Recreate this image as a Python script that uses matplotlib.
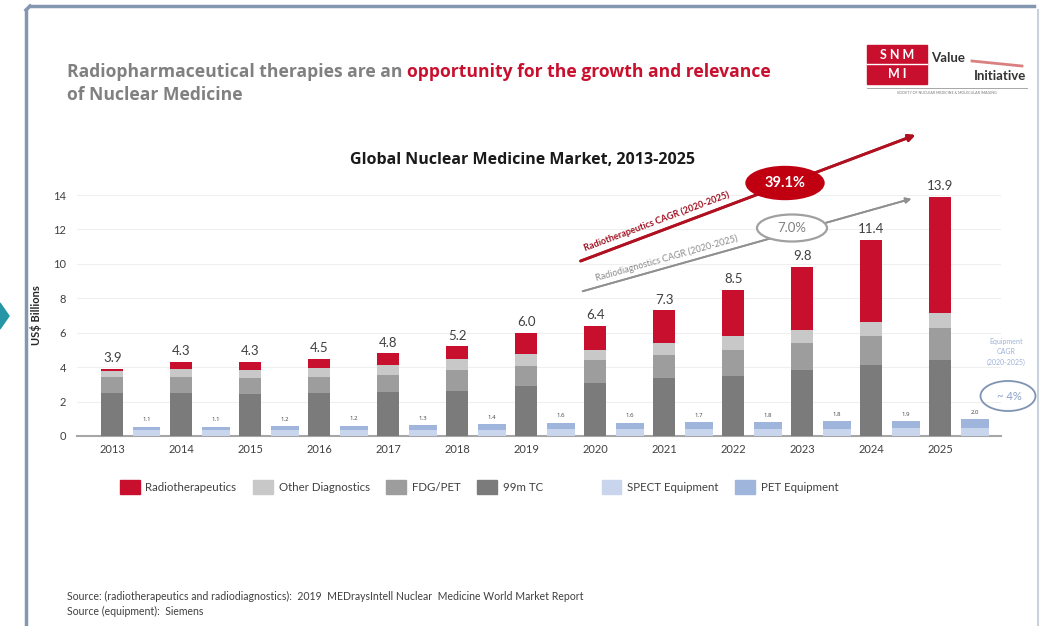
"""
Global Nuclear Medicine Market, 2013-2025 (stacked bars + equipment bars)
"""

import matplotlib.pyplot as plt
from matplotlib.lines import Line2D
from matplotlib.patches import Ellipse, Polygon, Rectangle

plt.rcParams["font.family"] = ["Lato", "DejaVu Sans"]

# ---- data (US$ billions) ------------------------------------------------
years = ["2013", "2014", "2015", "2016", "2017", "2018", "2019",
         "2020", "2021", "2022", "2023", "2024", "2025"]
tc99m = [2.5, 2.5, 2.45, 2.5, 2.55, 2.6, 2.9, 3.05, 3.35, 3.5, 3.85, 4.15, 4.4]
fdg_pet = [0.9, 0.95, 0.9, 0.95, 1.0, 1.25, 1.15, 1.35, 1.35, 1.5, 1.55, 1.65, 1.85]
other_dx = [0.35, 0.45, 0.5, 0.5, 0.6, 0.6, 0.7, 0.6, 0.7, 0.8, 0.75, 0.85, 0.9]
radio = [0.15, 0.4, 0.45, 0.55, 0.65, 0.75, 1.25, 1.4, 1.9, 2.7, 3.65, 4.75, 6.75]

# equipment bars (drawn on a compressed scale in the original) + their labels
spect_eq = [0.32, 0.32, 0.34, 0.35, 0.36, 0.37, 0.40, 0.40, 0.41, 0.42, 0.43, 0.44, 0.45]
pet_eq = [0.22, 0.23, 0.24, 0.25, 0.28, 0.31, 0.37, 0.37, 0.39, 0.40, 0.42, 0.43, 0.52]
eq_labels = ["1.1", "1.1", "1.2", "1.2", "1.3", "1.4", "1.6",
             "1.6", "1.7", "1.8", "1.8", "1.9", "2.0"]

RED = "#c8102e"
C_TC = "#7b7b7b"
C_FDG = "#9d9d9d"
C_OTHER = "#c8c8c8"
C_SPECT = "#c9d5ec"
C_PET = "#9fb5dc"

W, H = 1041, 626
WIDE = ["Open Sans", "DejaVu Sans"]


def px(x, y):
    """pixel (from top-left) -> figure fraction"""
    return x / W, 1 - y / H


def draw_frame(fig):
    border = "#8497b0"
    fig.add_artist(Line2D(*zip(px(26, H + 5), px(26, 10)), color=border, lw=2.5))
    fig.add_artist(Line2D(*zip(px(30, 6), px(1034, 6)), color=border, lw=2.5))
    fig.add_artist(Line2D(*zip(px(1038, 10), px(1038, H + 5)), color="#c9d1dc", lw=1.5))
    fig.add_artist(Line2D(*zip(px(26, 10), px(30, 6)), color=border, lw=2.5))
    fig.add_artist(Polygon([px(0, 303), px(9, 316), px(0, 329)], closed=True,
                           color="#2696a6", transform=fig.transFigure))


def draw_logo(fig):
    fig.add_artist(Rectangle(px(867, 84), 60 / W, 39 / H, color=RED,
                             transform=fig.transFigure))
    fig.add_artist(Line2D(*zip(px(867, 64), px(927, 64)), color="white", lw=1))
    fig.text(*px(897, 55), "S N M", color="white", fontsize=9, ha="center",
             va="center", fontweight="bold")
    fig.text(*px(897, 74), "M I", color="white", fontsize=9, ha="center",
             va="center", fontweight="bold")
    fig.text(*px(931, 58), "Value", color="#333333", fontsize=9.5,
             fontweight="bold", va="center")
    fig.text(*px(1026, 76), "Initiative", color="#333333", fontsize=9.5,
             fontweight="bold", va="center", ha="right")
    fig.add_artist(Line2D(*zip(px(972, 61), px(1022, 66)), color="#d98080", lw=2))
    fig.add_artist(Line2D(*zip(px(867, 88), px(1027, 88)), color="#999999", lw=0.6))
    fig.text(*px(947, 93), "SOCIETY OF NUCLEAR MEDICINE & MOLECULAR IMAGING",
             color="#777777", fontsize=2.6, ha="center", va="center")


def draw_title(fig):
    gray = "#808080"
    size = 12.6
    renderer = fig.canvas.get_renderer()
    t = fig.text(*px(67, 77), "Radiopharmaceutical therapies are an ",
                 color=gray, fontsize=size, fontweight="bold", va="baseline",
                 family=WIDE)
    bb = t.get_window_extent(renderer)
    fig.text(bb.x1 / W, 1 - 77 / H, "opportunity for the growth and relevance",
             color=RED, fontsize=size, fontweight="bold", va="baseline",
             family=WIDE)
    fig.text(*px(67, 100), "of Nuclear Medicine", color=gray, fontsize=size,
             fontweight="bold", va="baseline", family=WIDE)


def draw_cagr(fig):
    tf = fig.transFigure
    # radiotherapeutics
    fig.add_artist(plt.annotate("", xy=px(918, 134), xytext=px(578, 262),
                                xycoords="figure fraction",
                                arrowprops=dict(arrowstyle="-|>", color="#b01020",
                                                lw=2, mutation_scale=10)))
    fig.text(*px(657, 221), "Radiotherapeutics CAGR (2020-2025)", color="#a01020",
             fontsize=6.6, fontweight="bold", rotation=20.5,
             rotation_mode="anchor", ha="center", va="center")
    fig.add_artist(Ellipse(px(785, 183), 78 / W, 33 / H, color="#c00010",
                           transform=tf, zorder=5))
    fig.text(*px(785, 183), "39.1%", color="white", fontsize=10.5,
             fontweight="bold", ha="center", va="center", zorder=6)
    # radiodiagnostics
    fig.add_artist(plt.annotate("", xy=px(914, 198), xytext=px(580, 292),
                                xycoords="figure fraction",
                                arrowprops=dict(arrowstyle="-|>", color="#909090",
                                                lw=1.3, mutation_scale=8)))
    fig.text(*px(667, 258), "Radiodiagnostics CAGR (2020-2025)", color="#8c8c8c",
             fontsize=6.6, rotation=15.8, rotation_mode="anchor",
             ha="center", va="center")
    fig.add_artist(Ellipse(px(792, 228), 70 / W, 27 / H, facecolor="white",
                           edgecolor="#a0a0a0", lw=1.6, transform=tf, zorder=5))
    fig.text(*px(792, 228), "7.0%", color="#808080", fontsize=9.5,
             ha="center", va="center", zorder=6)
    # equipment
    fig.text(*px(1006, 352), "Equipment\nCAGR\n(2020-2025)", color="#9db3d8",
             fontsize=5, ha="center", va="center", linespacing=1.6)
    fig.add_artist(Ellipse(px(1008, 396), 55 / W, 30 / H, facecolor="none",
                           edgecolor="#7f93b3", lw=1.3, transform=tf))
    fig.text(*px(1009, 396), "~ 4%", color="#8aa0c8", fontsize=8,
             ha="center", va="center")


def plot_market():
    fig = plt.figure(figsize=(W / 100, H / 100), dpi=100)
    fig.patch.set_facecolor("white")

    ax = fig.add_axes([77 / W, 1 - 436 / H, (1001 - 77) / W, (436 - 195) / H])
    x = list(range(len(years)))
    bw = 0.32
    xe = [i + 0.5 for i in x]
    ew = 0.4

    bottom = [0.0] * len(years)
    for vals, col, lab in [(tc99m, C_TC, "99m TC"), (fdg_pet, C_FDG, "FDG/PET"),
                           (other_dx, C_OTHER, "Other Diagnostics"),
                           (radio, RED, "Radiotherapeutics")]:
        ax.bar(x, vals, bw, bottom=bottom, color=col, label=lab, zorder=3)
        bottom = [b + v for b, v in zip(bottom, vals)]

    ax.bar(xe, spect_eq, ew, color=C_SPECT, zorder=3)
    ax.bar(xe, pet_eq, ew, bottom=spect_eq, color=C_PET, zorder=3)
    eq_tot = [s + p for s, p in zip(spect_eq, pet_eq)]

    for i, tot in enumerate(bottom):
        ax.text(x[i], tot + 0.28, f"{tot:.1f}", ha="center", va="bottom",
                fontsize=9.5, color="#404040")
    for i, lab in enumerate(eq_labels):
        ax.text(xe[i], eq_tot[i] + 0.25, lab, ha="center", va="bottom",
                fontsize=4.3, color="#404040", family=WIDE)

    ax.set_xlim(-0.51, 12.88)
    ax.set_ylim(0, 14)
    ax.set_yticks(range(0, 15, 2))
    ax.set_xticks(x)
    ax.set_xticklabels(years)
    ax.tick_params(length=0, labelsize=8, colors="#404040", pad=6)
    ax.tick_params(axis="y", pad=8)
    ax.yaxis.grid(True, color="#efefef", lw=0.8, zorder=0)
    for s in ["top", "right", "left"]:
        ax.spines[s].set_visible(False)
    ax.spines["bottom"].set_color("#a6a6a6")
    ax.spines["bottom"].set_linewidth(1.5)
    ax.set_ylabel("US$ Billions", fontsize=8, fontweight="bold", color="#262626",
                  labelpad=8)

    fig.text(*px(523, 160), "Global Nuclear Medicine Market, 2013-2025",
             ha="center", va="center", fontsize=11.5, fontweight="bold",
             color="#1a1a1a", family=WIDE)

    handles = [Rectangle((0, 0), 1, 1, color=c) for c in
               [RED, C_OTHER, C_FDG, C_TC]]
    handles += [Rectangle((0, 0), 1, 1, alpha=0)]
    handles += [Rectangle((0, 0), 1, 1, color=c) for c in [C_SPECT, C_PET]]
    labels = ["Radiotherapeutics", "Other Diagnostics", "FDG/PET", "99m TC", "",
              "SPECT Equipment", "PET Equipment"]
    fig.legend(handles, labels, loc="center left", bbox_to_anchor=px(120, 487),
               ncol=7, frameon=False, fontsize=8.3, handlelength=1.7,
               handleheight=1.4, handletextpad=0.5, columnspacing=1.45,
               labelcolor="#404040", borderaxespad=0, borderpad=0)

    fig.text(*px(67, 596), "Source: (radiotherapeutics and radiodiagnostics):  "
             "2019  MEDraysIntell Nuclear  Medicine World Market Report",
             fontsize=7.6, color="#404040", va="center")
    fig.text(*px(67, 611), "Source (equipment):  Siemens", fontsize=7.6,
             color="#404040", va="center")

    draw_frame(fig)
    draw_logo(fig)
    draw_title(fig)
    draw_cagr(fig)

    fig.savefig("out.png", dpi=100)


if __name__ == "__main__":
    plot_market()
